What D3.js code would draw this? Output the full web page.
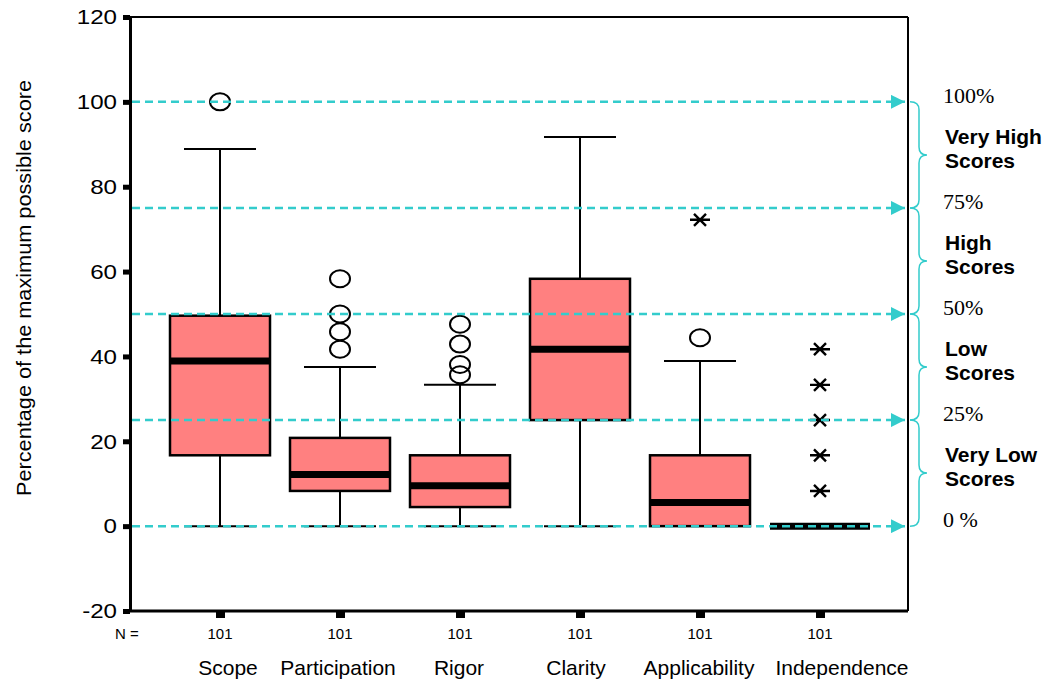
<!DOCTYPE html>
<html>
<head>
<meta charset="utf-8">
<script src="https://cdn.jsdelivr.net/npm/d3@7"></script>
<style>
  body { margin: 0; background: #fff; }
  text { font-family: "Liberation Sans", Arial, sans-serif; fill: #000; }
  .serif { font-family: "Liberation Serif", "Times New Roman", serif; }
</style>
</head>
<body>
<div id="chart"></div>
<script>
const w = 1055, h = 685;
const categories = ["Scope", "Participation", "Rigor", "Clarity", "Applicability", "Independence"];
const labelShift = [8, -2, -1, -4, -1, 22];
const counts = [101, 101, 101, 101, 101, 101];
const lowWhisker = [0, 0, 0, 0, 0, 0];
const q1 = [16.7, 8.3, 4.5, 25, 0, 0];
const median = [38.9, 12.2, 9.5, 41.7, 5.6, 0];
const q3 = [49.6, 20.8, 16.7, 58.3, 16.7, 0];
const highWhisker = [88.9, 37.5, 33.3, 91.7, 38.9, 0];
const outliers = [[100], [58.3, 50, 45.8, 41.7], [47.6, 42.9, 38.1, 35.7], [], [44.4], []];
const extremes = [[], [], [], [], [72.2], [41.7, 33.3, 25, 16.7, 8.3]];
const yTicks = [-20, 0, 20, 40, 60, 80, 100, 120];
const levels = [0, 25, 50, 75, 100];
const levelLabels = ["0 %", "25%", "50%", "75%", "100%"];
const bandLabels = [["Very Low", "Scores"], ["Low", "Scores"], ["High", "Scores"], ["Very High", "Scores"]];

const cyan = "#33cccc";
const boxFill = "#ff8080";
const frame = { left: 130, right: 908, top: 17, bottom: 611 };

const svg = d3.select("#chart").append("svg").attr("width", w).attr("height", h);

const y = d3.scaleLinear().domain([-20, 120]).range([frame.bottom, frame.top]);
const x = d3.scalePoint().domain(categories).range([220, 820]);
const boxW = 100, capW = 72;

const data = categories.map((c, i) => ({
  cat: c, shift: labelShift[i], n: counts[i], lo: lowWhisker[i], q1: q1[i], med: median[i], q3: q3[i], hi: highWhisker[i],
  out: outliers[i], ext: extremes[i],
}));

// frame
svg.append("line").attr("x1", frame.left).attr("x2", frame.right).attr("y1", frame.top).attr("y2", frame.top)
  .attr("stroke", "#000").attr("stroke-width", 2);
svg.append("line").attr("x1", frame.right).attr("x2", frame.right).attr("y1", frame.top).attr("y2", frame.bottom)
  .attr("stroke", "#000").attr("stroke-width", 2);

// y axis
const yAxis = svg.append("g").attr("transform", `translate(${frame.left},0)`)
  .call(d3.axisLeft(y).tickValues(yTicks).tickSize(0).tickPadding(13).tickFormat((d) => String(d)));
yAxis.select(".domain").attr("stroke-width", 3);
yAxis.selectAll(".tick text")
  .style("font-size", "21px").style("font-family", "Liberation Sans, Arial, sans-serif")
  .attr("transform", "translate(-13,0) scale(1.15,1) translate(13,0)");
yAxis.selectAll(".tick").append("rect").attr("x", -7).attr("y", -2.5).attr("width", 7).attr("height", 5).attr("fill", "#000");

// x axis
const xAxis = svg.append("g").attr("transform", `translate(0,${frame.bottom})`)
  .call(d3.axisBottom(x).tickSize(0).tickFormat(""));
xAxis.select(".domain").attr("stroke-width", 3).attr("d", `M${frame.left},0H${frame.right}`);
xAxis.selectAll(".tick").append("rect").attr("x", -4.5).attr("y", 1).attr("width", 9).attr("height", 6).attr("fill", "#000");

svg.append("text").attr("x", 115).attr("y", 639).style("font-size", "15px").text("N =");
svg.selectAll(".ncount").data(data).enter().append("text")
  .attr("x", (d) => x(d.cat)).attr("y", 639).attr("text-anchor", "middle").style("font-size", "15px")
  .text((d) => d.n);
svg.selectAll(".catlabel").data(data).enter().append("text")
  .attr("x", (d) => x(d.cat) + d.shift).attr("y", 675).attr("text-anchor", "middle").style("font-size", "21px")
  .text((d) => d.cat);

svg.append("text")
  .attr("transform", "translate(31,288) rotate(-90)")
  .attr("text-anchor", "middle").style("font-size", "20px")
  .attr("textLength", 416).attr("lengthAdjust", "spacingAndGlyphs")
  .text("Percentage of the maximum possible score");

// boxes
const box = svg.selectAll(".box").data(data).enter().append("g").attr("class", "box");
box.filter((d) => d.hi > d.q3).append("line")
  .attr("x1", (d) => x(d.cat)).attr("x2", (d) => x(d.cat))
  .attr("y1", (d) => y(d.q3)).attr("y2", (d) => y(d.hi)).attr("stroke", "#000").attr("stroke-width", 2);
box.filter((d) => d.hi > d.q3).append("line")
  .attr("x1", (d) => x(d.cat) - capW / 2).attr("x2", (d) => x(d.cat) + capW / 2)
  .attr("y1", (d) => y(d.hi)).attr("y2", (d) => y(d.hi)).attr("stroke", "#000").attr("stroke-width", 2);
box.filter((d) => d.q1 > d.lo).append("line")
  .attr("x1", (d) => x(d.cat)).attr("x2", (d) => x(d.cat))
  .attr("y1", (d) => y(d.q1)).attr("y2", (d) => y(d.lo)).attr("stroke", "#000").attr("stroke-width", 2);
box.filter((d) => d.q1 > d.lo).append("line")
  .attr("x1", (d) => x(d.cat) - capW / 2).attr("x2", (d) => x(d.cat) + capW / 2)
  .attr("y1", (d) => y(d.lo)).attr("y2", (d) => y(d.lo)).attr("stroke", "#000").attr("stroke-width", 2);
box.append("rect")
  .attr("x", (d) => x(d.cat) - boxW / 2).attr("width", boxW)
  .attr("y", (d) => y(d.q3)).attr("height", (d) => y(d.q1) - y(d.q3))
  .attr("fill", boxFill).attr("stroke", "#000").attr("stroke-width", 2.5);
box.append("line")
  .attr("x1", (d) => x(d.cat) - boxW / 2).attr("x2", (d) => x(d.cat) + boxW / 2)
  .attr("y1", (d) => y(d.med)).attr("y2", (d) => y(d.med)).attr("stroke", "#000").attr("stroke-width", 7);

box.selectAll(".out").data((d) => d.out.map((v) => [d.cat, v])).enter().append("ellipse")
  .attr("cx", (d) => x(d[0])).attr("cy", (d) => y(d[1])).attr("rx", 10).attr("ry", 8.5)
  .attr("fill", "none").attr("stroke", "#000").attr("stroke-width", 2);
box.selectAll(".ext").data((d) => d.ext.map((v) => [d.cat, v])).enter().append("path")
  .attr("transform", (d) => `translate(${x(d[0])},${y(d[1])})`)
  .attr("d", "M-10,0H10M-6,-6L6,6M-6,6L6,-6")
  .attr("fill", "none").attr("stroke", "#000").attr("stroke-width", 2.4);

// reference levels
svg.append("defs").append("marker").attr("id", "arrow")
  .attr("viewBox", "0 0 10 10").attr("refX", 10).attr("refY", 5)
  .attr("markerWidth", 14).attr("markerHeight", 14).attr("markerUnits", "userSpaceOnUse").attr("orient", "auto")
  .append("path").attr("d", "M0,0L10,5L0,10Z").attr("fill", cyan);
svg.selectAll(".level").data(levels).enter().append("line")
  .attr("x1", frame.left + 2).attr("x2", 905).attr("y1", (d) => y(d)).attr("y2", (d) => y(d))
  .attr("stroke", cyan).attr("stroke-width", 2.5).attr("stroke-dasharray", "8,5")
  .attr("marker-end", "url(#arrow)");

svg.selectAll(".lvlabel").data(levels).enter().append("text")
  .attr("class", "serif").attr("x", 943).attr("y", (d) => y(d) + 1).style("font-size", "22px")
  .text((d, i) => levelLabels[i]);

// braces between levels
const bx = 910;
const brace = (y0, y1) => {
  const ym = (y0 + y1) / 2, q = 8;
  return `M${bx},${y0}Q${bx + 9},${y0} ${bx + 9},${y0 + q}L${bx + 9},${ym - q}Q${bx + 9},${ym} ${bx + 17},${ym}` +
    `Q${bx + 9},${ym} ${bx + 9},${ym + q}L${bx + 9},${y1 - q}Q${bx + 9},${y1} ${bx},${y1}`;
};
const bands = d3.pairs(levels);
svg.selectAll(".brace").data(bands).enter().append("path")
  .attr("d", (d) => brace(y(d[1]), y(d[0])))
  .attr("fill", "none").attr("stroke", cyan).attr("stroke-width", 1.5);
const bandText = svg.selectAll(".band").data(bands).enter().append("text")
  .attr("x", 945).attr("y", (d) => y((d[0] + d[1]) / 2) - 11)
  .style("font-size", "21px").style("font-weight", "bold");
bandText.append("tspan").text((d, i) => bandLabels[i][0]);
bandText.append("tspan").attr("x", 945).attr("dy", 24).text((d, i) => bandLabels[i][1]);
</script>
</body>
</html>
